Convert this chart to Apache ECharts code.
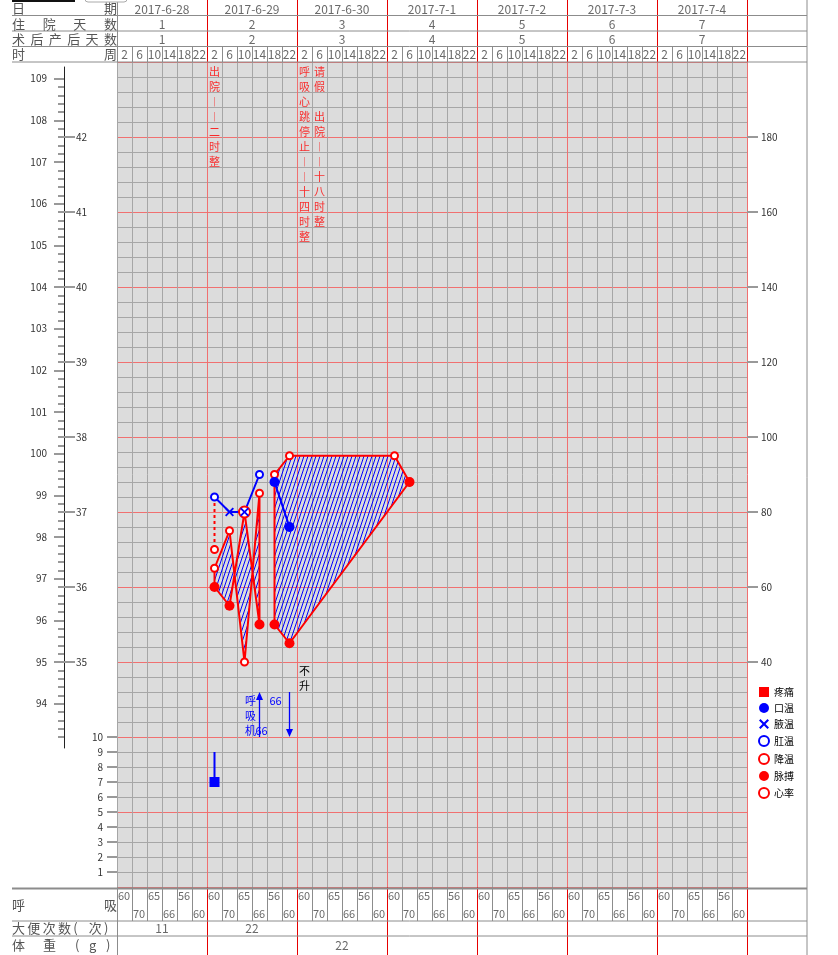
<!DOCTYPE html>
<html><head><meta charset="utf-8">
<script src="https://cdn.jsdelivr.net/npm/echarts@6/dist/echarts.min.js"></script>
<style>html,body{margin:0;padding:0;background:#fff}#c{width:838px;height:955px}</style>
</head><body><div id="c"></div>
<script>
// ---------------- data ----------------
const dates = ['2017-6-28','2017-6-29','2017-6-30','2017-7-1','2017-7-2','2017-7-3','2017-7-4'];
const hospitalDays = [1,2,3,4,5,6,7];
const postOpDays = [1,2,3,4,5,6,7];
const hourLabels = [2,6,10,14,18,22];

const fahrenheitTicks = [94,95,96,97,98,99,100,101,102,103,104,105,106,107,108,109];
const celsiusTicks = [35,36,37,38,39,40,41,42];
const pulseTicks = [40,60,80,100,120,140,160,180];
const painTicks = [1,2,3,4,5,6,7,8,9,10];

const tempSlot = [6,7,8,9,10,11];
const tempValue = [37.2,37.0,37.0,37.5,37.4,36.8];
const tempType = ['肛温','腋温','腋温','肛温','口温','口温'];
const tempSegment = [0,0,0,0,1,1];

const coolSlot = [6];
const coolValue = [36.5];

const pulseSlot = [6,7,8,9,10,11,19];
const pulseValue = [60,55,80,50,50,45,88];
const pulseSegment = [0,0,0,0,1,1,1];

const heartSlot = [6,7,8,9,10,11,18,19];
const heartValue = [65,75,40,85,90,95,95,88];
const heartSegment = [0,0,0,0,1,1,1,1];

const painSlot = [6];
const painValue = [7];
const painBefore = [9];

const breathValue = [
  60,70,65,66,56,60,
  60,70,65,66,56,60,
  60,70,65,66,56,60,
  60,70,65,66,56,60,
  60,70,65,66,56,60,
  60,70,65,66,56,60,
  60,70,65,66,56,60];
const stoolCount = ['11','22','','','','',''];
const weightValue = ['','','22','','','',''];

const eventSlot = [6,12,13];
const eventText = ['出院——二时整','呼吸心跳停止——十四时整','请假　出院——十八时整'];

const ventSlot = [9];
const ventText = ['呼吸机'];
const ventValue = [66];
const notRiseSlot = [11];
const notRiseText = ['不升'];

// ---------------- helpers ----------------
const FONT = "'Noto Sans CJK SC','Noto Sans',sans-serif";
const RED_GRID = '#f07070', GRAY_GRID = '#a6a6a6', RED_LINE = '#e60000', GRAY_LINE = '#8c8c8c';
const BLUE = '#0000ff', RED = '#ff0000';
const tempRow = c => (c - 32) * 5;          // main grid row units (15px each)
const pulseRow = p => (p + 20) / 4;
const slotX = s => s + 0.5;
const cToF = c => c * 1.8 + 32;
const uniq = a => a.filter((v, i) => a.indexOf(v) === i);

const slotGridColors = Array.from({length:43}, (_, i) => i > 0 && i % 6 === 0 ? RED_GRID : GRAY_GRID);
const slotTableColors = Array.from({length:43}, (_, i) => i > 0 && i % 6 === 0 ? RED_LINE : GRAY_LINE);
const dayTableColors = Array.from({length:8}, (_, i) => i > 0 ? RED_LINE : GRAY_LINE);
const rowColors = Array.from({length:56}, (_, i) => i % 5 === 0 ? RED_GRID : GRAY_GRID);

const GRID_TOP = 62, ROW_PX = 15;
const cAtY = y => 43 - (y - GRID_TOP) / 75;
const fMin = cToF(cAtY(748)), fMax = cToF(cAtY(67));
const fMinor = [];
for (let k = 466; k <= 545; k++) if (k % 5) fMinor.push(k / 5);

function splitAxis(gridIndex, min, max, interval, colors, extra) {
  return Object.assign({type:'value', gridIndex, min, max, interval,
    axisLine:{show:false}, axisTick:{show:false}, axisLabel:{show:false},
    splitLine:{show:true, lineStyle:{color:colors, width:1}}}, extra || {});
}
function hiddenAxis(gridIndex, min, max, extra) {
  return Object.assign({type:'value', gridIndex, min, max, show:false}, extra || {});
}
function textSeries(xi, yi, items, label) {
  return {type:'scatter', xAxisIndex:xi, yAxisIndex:yi, symbolSize:1, silent:true, z:9,
    itemStyle:{color:'rgba(0,0,0,0)'}, data:items,
    label:Object.assign({show:true, position:'inside', formatter:p => p.name,
      fontFamily:FONT, fontSize:12, color:'#444'}, label || {})};
}

// hatch pattern
const hatch = document.createElement('canvas');
hatch.width = 4; hatch.height = 12;
(function(){
  const ctx = hatch.getContext('2d');
  ctx.strokeStyle = BLUE; ctx.lineWidth = 1;
  [-4, 0, 4].forEach(o => { ctx.beginPath(); ctx.moveTo(o - 1, 15); ctx.lineTo(o + 5, -3); ctx.stroke(); });
})();

const XPATH = 'path://M1.5,0L5,3.5L8.5,0L10,1.5L6.5,5L10,8.5L8.5,10L5,6.5L1.5,10L0,8.5L3.5,5L0,1.5Z';

// ---------------- series ----------------
const series = [];

const prSegs = uniq(heartSegment);
series.push({type:'custom', name:'脉搏短绌', xAxisIndex:0, yAxisIndex:0, z:3, silent:true,
  data: prSegs.map(s => [s, 0]),
  renderItem(params, api) {
    const seg = prSegs[params.dataIndex];
    const hr = heartSlot.map((s, i) => i).filter(i => heartSegment[i] === seg)
      .map(i => api.coord([slotX(heartSlot[i]), pulseRow(heartValue[i])]));
    const pu = pulseSlot.map((s, i) => i).filter(i => pulseSegment[i] === seg)
      .map(i => api.coord([slotX(pulseSlot[i]), pulseRow(pulseValue[i])])).reverse();
    return {type:'polygon', shape:{points: hr.concat(pu)},
      style:{fill:{image:hatch, repeat:'repeat'}, stroke:RED, lineWidth:2, lineJoin:'round'}};
  }});

uniq(tempSegment).forEach(seg => {
  const pts = tempSlot.map((s, i) => i).filter(i => tempSegment[i] === seg)
    .map(i => [slotX(tempSlot[i]), tempRow(tempValue[i])]);
  series.push({type:'line', xAxisIndex:0, yAxisIndex:0, data:pts, symbol:'none', silent:true, z:5,
    lineStyle:{color:BLUE, width:2, opacity:1}});
});

coolSlot.forEach((s, i) => {
  const ti = tempSlot.indexOf(s);
  series.push({type:'line', xAxisIndex:0, yAxisIndex:0, symbol:'none', silent:true, z:5,
    data:[[slotX(s), tempRow(tempValue[ti])], [slotX(s), tempRow(coolValue[i])]],
    lineStyle:{color:RED, width:2, type:[3,3], opacity:1}});
});

painSlot.forEach((s, i) => {
  series.push({type:'line', xAxisIndex:0, yAxisIndex:0, symbol:'none', silent:true, z:5,
    data:[[slotX(s), painBefore[i]], [slotX(s), painValue[i]]], lineStyle:{color:BLUE, width:2, opacity:1}});
});

series.push({type:'scatter', name:'心率', xAxisIndex:0, yAxisIndex:0, z:6, silent:true,
  symbol:'circle', symbolSize:7, itemStyle:{color:'#fff', borderColor:RED, borderWidth:2, opacity:1},
  data: heartSlot.map((s, i) => [slotX(s), pulseRow(heartValue[i])])});

series.push({type:'scatter', name:'脉搏', xAxisIndex:0, yAxisIndex:0, z:6, silent:true,
  symbol:'circle', symbolSize:10, itemStyle:{color:RED, opacity:1},
  data: pulseSlot.map((s, i) => {
    const r = pulseRow(pulseValue[i]);
    const ti = tempSlot.indexOf(s);
    const overlap = ti >= 0 && Math.abs(tempRow(tempValue[ti]) - r) < 1e-6;
    return overlap ? {value:[slotX(s), r], symbolSize:11,
      itemStyle:{color:'#fff', borderColor:RED, borderWidth:2, opacity:1}} : [slotX(s), r];
  })});

const tempStyles = {
  '口温': {symbol:'circle', symbolSize:10, itemStyle:{color:BLUE, opacity:1}},
  '腋温': {symbol:XPATH, symbolSize:9, itemStyle:{color:BLUE, opacity:1}},
  '肛温': {symbol:'circle', symbolSize:7, itemStyle:{color:'#fff', borderColor:BLUE, borderWidth:2, opacity:1}}
};
['口温','腋温','肛温'].forEach(t => {
  series.push(Object.assign({type:'scatter', name:t, xAxisIndex:0, yAxisIndex:0, z:7, silent:true,
    data: tempSlot.map((s, i) => i).filter(i => tempType[i] === t).map(i => [slotX(tempSlot[i]), tempRow(tempValue[i])])},
    tempStyles[t]));
});

series.push({type:'scatter', name:'降温', xAxisIndex:0, yAxisIndex:0, z:7, silent:true,
  symbol:'circle', symbolSize:7, itemStyle:{color:'#fff', borderColor:RED, borderWidth:2, opacity:1},
  data: coolSlot.map((s, i) => [slotX(s), tempRow(coolValue[i])])});

series.push({type:'scatter', name:'疼痛', xAxisIndex:0, yAxisIndex:0, z:7, silent:true,
  symbol:'rect', symbolSize:10, itemStyle:{color:BLUE, opacity:1},
  data: painSlot.map((s, i) => [slotX(s), painValue[i]])});

series.push(textSeries(0, 0, eventSlot.map((s, i) => ({
  name: [...eventText[i].replace(/—/g, '︱')].join('\n'), value:[slotX(s), 55]})),
  {position:'bottom', distance:2, color:RED, fontSize:11, lineHeight:15}));

series.push({type:'custom', xAxisIndex:0, yAxisIndex:0, z:8, silent:true,
  data: ventSlot.map(s => [slotX(s), 10]),
  renderItem(params, api) {
    const i = params.dataIndex;
    const [x, yLow] = api.coord([slotX(ventSlot[i]), 10]);
    const yHigh = api.coord([slotX(ventSlot[i]), 13])[1];
    const f = '11px ' + FONT;
    const ch = [
      {type:'line', shape:{x1:x, y1:yLow, x2:x, y2:yHigh + 6}, style:{stroke:BLUE, lineWidth:1.3}},
      {type:'polygon', shape:{points:[[x, yHigh], [x - 3.5, yHigh + 8], [x + 3.5, yHigh + 8]]}, style:{fill:BLUE}}
    ];
    [...ventText[i]].forEach((c, k) => ch.push({type:'text', x:x - 9, y:yHigh + 9 + 15 * k,
      style:{text:c, fill:BLUE, font:f, align:'center', verticalAlign:'middle'}}));
    ch.push({type:'text', x:x - 4, y:yHigh + 39, style:{text:String(ventValue[i]), fill:BLUE, font:f, align:'left', verticalAlign:'middle'}});
    ch.push({type:'text', x:x + 10, y:yHigh + 9, style:{text:String(ventValue[i]), fill:BLUE, font:f, align:'left', verticalAlign:'middle'}});
    return {type:'group', children:ch};
  }});

series.push({type:'custom', xAxisIndex:0, yAxisIndex:0, z:8, silent:true,
  data: notRiseSlot.map(s => [slotX(s), 10]),
  renderItem(params, api) {
    const i = params.dataIndex;
    const [x, yLow] = api.coord([slotX(notRiseSlot[i]), 10]);
    const yHigh = api.coord([slotX(notRiseSlot[i]), 13])[1];
    const ch = [
      {type:'line', shape:{x1:x, y1:yHigh, x2:x, y2:yLow - 6}, style:{stroke:BLUE, lineWidth:1.3}},
      {type:'polygon', shape:{points:[[x, yLow], [x - 3.5, yLow - 8], [x + 3.5, yLow - 8]]}, style:{fill:BLUE}}
    ];
    [...notRiseText[i]].forEach((c, k) => ch.push({type:'text', x:x + 15, y:yHigh - 21 + 15 * k,
      style:{text:c, fill:'#000', font:'11px ' + FONT, align:'center', verticalAlign:'middle'}}));
    return {type:'group', children:ch};
  }});

series.push(textSeries(2, 6, dates.map((d, i) => ({name:d, value:[6 * i + 3, 0.58]}))));
series.push(textSeries(2, 6, hospitalDays.map((d, i) => ({name:String(d), value:[6 * i + 3, 1.55]}))));
series.push(textSeries(2, 6, postOpDays.map((d, i) => ({name:String(d), value:[6 * i + 3, 2.52]}))));
const hourItems = [];
dates.forEach((d, di) => hourLabels.forEach((h, hi) => hourItems.push({name:String(h), value:[6 * di + hi + 0.5, 0.5]})));
series.push(textSeries(3, 7, hourItems));

series.push(textSeries(4, 8, breathValue.map((v, i) => ({name:String(v), value:[i, i % 2 ? 1.55 : 0.5]})),
  {position:'right', distance:0.5, fontSize:11}));

series.push(textSeries(5, 9, stoolCount.map((v, i) => ({name:v, value:[6 * i + 3, 0.42]})).filter(o => o.name !== '')));
series.push(textSeries(5, 9, weightValue.map((v, i) => ({name:v, value:[6 * i + 3, 1.45]})).filter(o => o.name !== '')));

// ---------------- graphic (table frame & row titles) ----------------
const graphic = [];
const hLine = (y, w) => graphic.push({type:'line', z:100, silent:true,
  shape:{x1:12, y1:y, x2:807, y2:y}, style:{stroke:GRAY_LINE, lineWidth:w || 1}});
[15.5, 31, 46.5, 62, 921, 936].forEach(y => hLine(y));
hLine(888.5, 2);
graphic.push({type:'line', z:100, silent:true, shape:{x1:807, y1:0, x2:807, y2:955}, style:{stroke:GRAY_LINE, lineWidth:1}});
graphic.push({type:'rect', z:100, silent:true, shape:{x:12, y:0, width:63, height:2}, style:{fill:'#111'}});
graphic.push({type:'rect', z:100, silent:true, shape:{x:85, y:-6, width:42, height:8, r:3}, style:{fill:'#fff', stroke:'#aaa'}});
function rowTitle(text, y, xs) {
  const chars = [...text];
  const n = chars.length;
  chars.forEach((c, i) => graphic.push({type:'text', z:100, silent:true,
    x: xs ? xs[i] : 12 + i * (117 - 13 - 12) / (n - 1), y,
    style:{text:c, fill:'#555', font:'13px ' + FONT, align:'left', verticalAlign:'middle'}}));
}
rowTitle('日期', 8.5);
rowTitle('住院天数', 24);
rowTitle('术后产后天数', 39);
rowTitle('时周', 54.5);
rowTitle('呼吸', 905);
rowTitle('大便次数(次)', 928.5);
rowTitle('体重(g)', 945.5, [12, 43, 75, 89, 106]);

// ---------------- option ----------------
const tickStyle = {color:'#999', width:2};
const labelStyle = {fontFamily:FONT, fontSize:10, color:'#333'};
const option = {
  animation:false,
  backgroundColor:'#fff',
  textStyle:{fontFamily:FONT},
  grid:[
    {left:117, top:GRID_TOP, width:630, height:55 * ROW_PX, show:true, backgroundColor:'#dcdcdc', borderWidth:0},
    {left:64, top:67, width:1, height:681},
    {left:117, top:0, width:630, height:46.5},
    {left:117, top:46.5, width:630, height:15.5},
    {left:117, top:887, width:630, height:34},
    {left:117, top:921, width:630, height:34}
  ],
  xAxis:[
    splitAxis(0, 0, 42, 1, slotGridColors),
    hiddenAxis(1, 0, 1),
    splitAxis(2, 0, 42, 6, dayTableColors),
    splitAxis(3, 0, 42, 1, slotTableColors),
    splitAxis(4, 0, 42, 1, slotTableColors),
    splitAxis(5, 0, 42, 6, dayTableColors)
  ],
  yAxis:[
    splitAxis(0, 0, 55, 1, rowColors),
    {type:'value', gridIndex:0, min:0, max:55, position:'left', splitLine:{show:false}, axisLine:{show:false},
      axisTick:{show:true, customValues:painTicks, length:10, lineStyle:tickStyle},
      axisLabel:Object.assign({show:true, customValues:painTicks, margin:14}, labelStyle)},
    {type:'value', gridIndex:0, min:0, max:55, position:'right', splitLine:{show:false}, axisLine:{show:false},
      axisTick:{show:true, customValues:pulseTicks.map(pulseRow), length:11, lineStyle:tickStyle},
      axisLabel:Object.assign({show:true, customValues:pulseTicks.map(pulseRow), margin:14,
        formatter:v => String(Math.round(v * 4 - 20))}, labelStyle)},
    {type:'value', gridIndex:1, min:fMin, max:fMax, position:'left', splitLine:{show:false},
      axisLine:{show:true, lineStyle:{color:'#222', width:1}},
      axisTick:{show:true, customValues:fMinor, length:6, lineStyle:tickStyle},
      axisLabel:{show:false}},
    {type:'value', gridIndex:1, min:fMin, max:fMax, position:'left', splitLine:{show:false}, axisLine:{show:false},
      axisTick:{show:true, customValues:fahrenheitTicks, length:10, lineStyle:tickStyle},
      axisLabel:Object.assign({show:true, customValues:fahrenheitTicks, margin:17, formatter:v => String(Math.round(v))}, labelStyle)},
    {type:'value', gridIndex:1, min:fMin, max:fMax, position:'left', splitLine:{show:false}, axisLine:{show:false},
      axisTick:{show:true, inside:true, customValues:celsiusTicks.map(cToF), length:11, lineStyle:tickStyle},
      axisLabel:Object.assign({show:true, inside:true, customValues:celsiusTicks.map(cToF), margin:12,
        formatter:v => String(Math.round((v - 32) / 1.8))}, labelStyle)},
    hiddenAxis(2, 0, 3, {inverse:true}),
    hiddenAxis(3, 0, 1, {inverse:true}),
    hiddenAxis(4, 0, 2, {inverse:true}),
    hiddenAxis(5, 0, 2, {inverse:true})
  ],
  legend:{orient:'vertical', left:758, top:687, itemWidth:10, itemHeight:10, itemGap:6, padding:0,
    selectedMode:false, textStyle:{fontFamily:FONT, fontSize:10, color:'#000'},
    data:[
      {name:'疼痛', icon:'rect', itemStyle:{color:RED, borderWidth:0, opacity:1}},
      {name:'口温', icon:'circle', itemStyle:{color:BLUE, borderWidth:0, opacity:1}},
      {name:'腋温', icon:XPATH, itemStyle:{color:BLUE, borderWidth:0, opacity:1}},
      {name:'肛温', icon:'circle', itemStyle:{color:'#fff', borderColor:BLUE, borderWidth:2, opacity:1}},
      {name:'降温', icon:'circle', itemStyle:{color:'#fff', borderColor:RED, borderWidth:2, opacity:1}},
      {name:'脉搏', icon:'circle', itemStyle:{color:RED, borderWidth:0, opacity:1}},
      {name:'心率', icon:'circle', itemStyle:{color:'#fff', borderColor:RED, borderWidth:2, opacity:1}}
    ]},
  graphic:graphic,
  series:series
};
const chart = echarts.init(document.getElementById('c'), null, {renderer:'canvas'});
chart.setOption(option);
</script></body></html>
